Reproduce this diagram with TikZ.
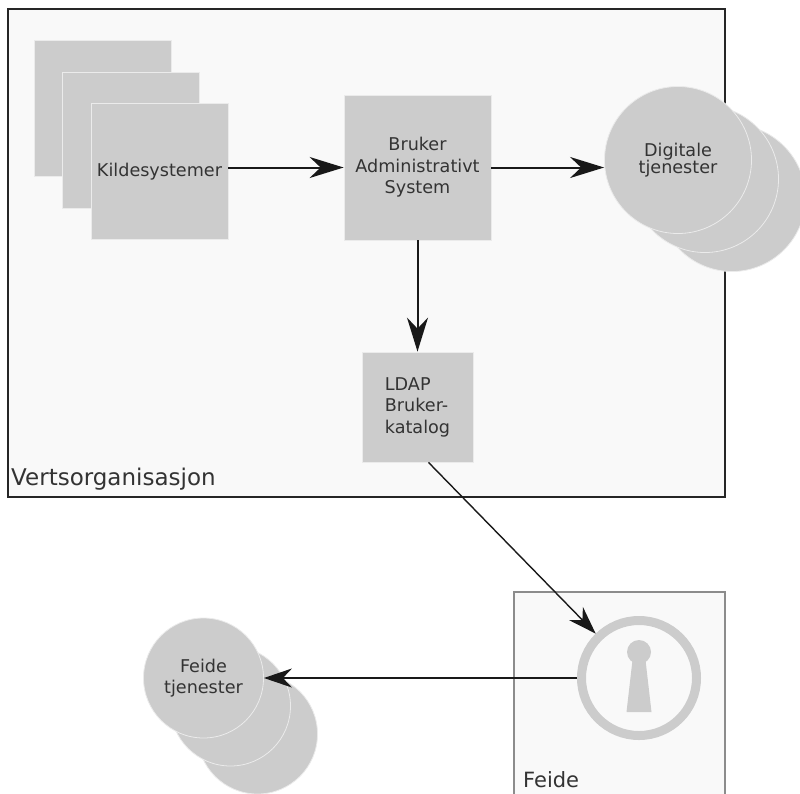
\documentclass[tikz,border=0pt]{standalone}
\usepackage{fontspec}
\setmainfont{DejaVu Sans}
\usepackage{tikz}
\usetikzlibrary{arrows.meta,calc,positioning}
\definecolor{grauKasten}{HTML}{CCCCCC}
\definecolor{grauGrund}{HTML}{F9F9F9}
\definecolor{grauRand}{HTML}{EBEBEB}

\begin{document}
\begin{tikzpicture}[x=1pt,y=-1pt,
  flaeche/.style={fill=grauKasten,draw=grauRand,line width=0.8pt,inner sep=0pt,text=black!80,font=\fontsize{17.6}{21.5}\selectfont},
  quadrat/.style={flaeche,rectangle,minimum width=137pt,minimum height=136pt},
  kreis/.style={flaeche,circle,minimum size=147pt},
  pfeil/.style={black!90,line width=2pt,-{Stealth[length=34pt,width=21pt,inset=11pt]}},
  pfeilduenn/.style={black!90,line width=1.4pt,-{Stealth[length=28pt,width=19pt,inset=9pt]}},
  beschriftung/.style={anchor=base west,inner sep=0pt,text=black!80}]
%Pixel der Vorlage = pt, y zeigt nach unten
  \clip (0,0) rectangle (800,793);
  \pgfmathsetmacro{\dxK}{28.5}
  \pgfmathsetmacro{\dyK}{31.5}
%Vertsorganisasjon
\draw[fill=grauGrund,draw=black!85,line width=2pt] (8,9) rectangle (725,497);
\node[beschriftung,font=\fontsize{23}{27}\selectfont] (vert) at (11,485) {Vertsorganisasjon};
\foreach \i in {2,1}{
\node[quadrat] (kilde\i) at ({159.5-\dxK*\i},{171.5-\dyK*\i}) {};
}
\node[quadrat] (kilde0) at (159.5,171.5) {Kildesystemer};
\node[quadrat,minimum width=147pt,minimum height=145pt,align=center] (bas) at (417.5,167.5) {Bruker\\Administrativt\\System};
\node[quadrat,minimum width=111pt,minimum height=110pt,align=left] (ldap) at (417.5,407) {LDAP\\Bruker-\\katalog};
\foreach \i in {2,1}{
\node[kreis] (dig\i) at ({678+27*\i},{160+19*\i}) {};
}
\node[kreis,align=center,font=\fontsize{17.6}{17.5}\selectfont] (dig0) at (678,160) {Digitale\\tjenester};
%Feide
\draw[fill=grauGrund,draw=black!45,line width=1.5pt] (514,592) rectangle (725,800);
\node[beschriftung,font=\fontsize{21}{25}\selectfont] (feide) at (523,787) {Feide};
\node[circle,draw=grauKasten,fill=grauGrund,line width=9pt,minimum size=115pt] (noekkel) at (639,678) {};
\fill[grauKasten] (noekkel.center) ++(0,-26) circle (12);
\fill[grauKasten] (noekkel.center) ++(-6.5,-18) -- ++(13,0) -- ++(6,52) -- ++(-25,0) -- cycle;
\foreach \i in {2,1}{
\node[kreis,minimum size=120pt] (ftj\i) at ({203.5+27*\i},{678+28*\i}) {};
}
\node[kreis,minimum size=120pt,align=center] (ftj0) at (203.5,678) {Feide\\tjenester};
%Pfeile
\draw[pfeil] (bas.west -| kilde0.east) -- (bas.west);
\draw[pfeil] (bas.east) -- (bas.east -| dig0.west);
\draw[pfeil] (bas.south) -- (ldap.north);
\draw[pfeilduenn] ([xshift=11pt]ldap.south) -- (noekkel);
\draw[pfeilduenn] (noekkel.west) -- (ftj0.east);
\end{tikzpicture}
\end{document}
